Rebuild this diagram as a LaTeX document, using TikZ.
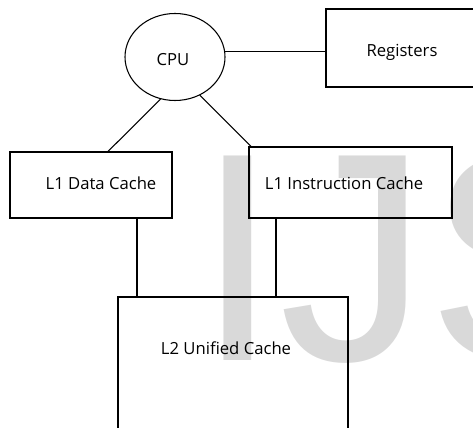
\documentclass[tikz,border=0pt]{standalone}
\usepackage{fontspec}
\setmainfont{Open Sans}
\newfontfamily\markfont{Liberation Sans}
\usepackage{tikz}
\usetikzlibrary{positioning,shapes.geometric}
\usepackage{xcolor}
\definecolor{markgray}{HTML}{D9D9D9}

\begin{document}
\begin{tikzpicture}[x=0.75pt,y=-0.75pt,line width=0.8pt,
  box/.style={draw,rectangle,inner sep=0pt},
  lbl/.style={font=\fontsize{12.5}{14}\selectfont,inner sep=0pt}]
\useasboundingbox (0,0) rectangle (473,427);
\clip (0,0) rectangle (473,427);
% watermark behind the diagram
\node[anchor=base west,inner sep=0pt,text=markgray,font=\markfont\fontsize{223}{223}\selectfont] (wm) at (196,360) {IJS};
\node[draw,ellipse,minimum width=75pt,minimum height=65.25pt,inner sep=0pt] (cpu) at (175,57) {};
\node[box,minimum width=112.5pt,minimum height=58.5pt] (reg) at (401,48) {};
\node[box,minimum width=121.5pt,minimum height=49.5pt] (l1d) at (91,185) {};
\node[box,minimum width=152.25pt,minimum height=53.25pt] (l1i) at (350.5,182.5) {};
\node[box,minimum width=172.5pt,minimum height=112.5pt] (l2) at (233,372) {};
\node[lbl] (tcpu) at (173,60) {CPU};
\node[lbl] (treg) at (402,52) {Registers};
\node[lbl] (tl1d) at (101,183) {L1 Data Cache};
\node[lbl] (tl1i) at (344,183) {L1 Instruction Cache};
\node[lbl] (tl2) at (226,348) {L2 Unified Cache};
\draw (cpu.6) -- (cpu.6 -| reg.west);
\draw (cpu.251) -- (l1d.north -| 108,0);
\draw (cpu.303) -- ([xshift=2pt]l1i.north west);
\draw (l1d.south -| 137,0) -- (l2.north -| 137,0);
\draw (l1i.south -| 276,0) -- (l2.north -| 276,0);
\end{tikzpicture}
\end{document}
